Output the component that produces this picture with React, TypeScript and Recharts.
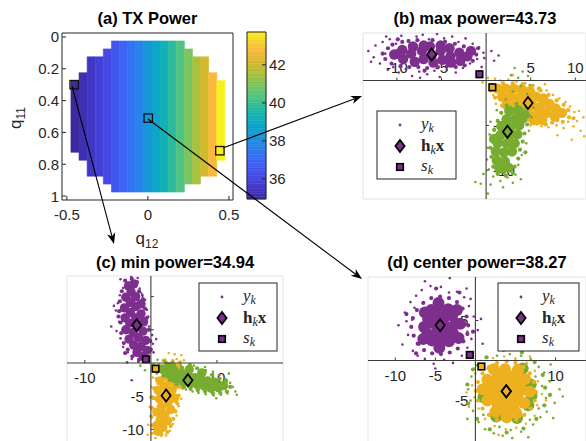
import React from 'react';
import {
  ScatterChart,
  Scatter,
  XAxis,
  YAxis,
  CartesianGrid,
  ReferenceArea,
  ReferenceLine,
} from 'recharts';

const PURPLE = '#7E2F8E';
const YELLOW = '#EDB120';
const GREEN = '#77AC30';
const INK = '#262626';
const AXIS = '#3c3c3c';
const GRID = '#E2E2E2';
const SANS = '"Liberation Sans", Arial, Helvetica, sans-serif';
const SERIF = '"Liberation Serif", "DejaVu Serif", serif';

// ---- (a) TX power map ----
const q12Cols = [-0.45, -0.4, -0.35, -0.3, -0.25, -0.2, -0.15, -0.1, -0.05, 0, 0.05, 0.1, 0.15, 0.2, 0.25, 0.3, 0.35, 0.4, 0.45];
const colPower = [34.94, 35.2, 35.5, 35.8, 36.1, 36.5, 36.9, 37.3, 37.8, 38.27, 38.8, 39.3, 39.8, 40.3, 40.9, 41.5, 42.1, 42.8, 43.73];
const colTop = [0.275, 0.225, 0.125, 0.125, 0.075, 0.025, 0.025, 0.025, 0.025, 0.025, 0.025, 0.025, 0.025, 0.025, 0.075, 0.125, 0.125, 0.225, 0.275];
const colBottom = [0.725, 0.775, 0.875, 0.875, 0.925, 0.975, 0.975, 0.975, 0.975, 0.975, 0.975, 0.975, 0.975, 0.975, 0.925, 0.925, 0.875, 0.875, 0.775];
const q12Ticks = [-0.5, 0, 0.5];
const q11Ticks = [0, 0.2, 0.4, 0.6, 0.8, 1];
const markedPoints = [[-0.455, 0.3], [0.002, 0.51], [0.444, 0.715]];
const powerMin = 34.94;
const powerMax = 43.73;
const cbTicks = [36, 38, 40, 42];

// parula-like colour stops
const parulaStops: [number, string][] = [
  [0, '#3B2A9E'], [0.065, '#4137C6'], [0.13, '#4648E4'], [0.223, '#3D64F6'],
  [0.325, '#2685E8'], [0.379, '#1995D9'], [0.44, '#0DA6C8'], [0.496, '#12B1B5'],
  [0.553, '#2CBA9E'], [0.61, '#50C383'], [0.678, '#78C562'], [0.746, '#A8C13E'],
  [0.815, '#D3B92E'], [0.894, '#FBB93C'], [0.95, '#F6D62C'], [1, '#F8F01E'],
];

function hexToRgb(h: string) {
  return [parseInt(h.slice(1, 3), 16), parseInt(h.slice(3, 5), 16), parseInt(h.slice(5, 7), 16)];
}
function parula(v: number) {
  const t = Math.max(0, Math.min(1, (v - powerMin) / (powerMax - powerMin)));
  for (let i = 1; i < parulaStops.length; i++) {
    const [t1, c1] = parulaStops[i];
    const [t0, c0] = parulaStops[i - 1];
    if (t <= t1) {
      const f = (t - t0) / (t1 - t0);
      const a = hexToRgb(c0), b = hexToRgb(c1);
      const c = a.map((x, k) => Math.round(x + (b[k] - x) * f));
      return `rgb(${c[0]},${c[1]},${c[2]})`;
    }
  }
  return parulaStops[parulaStops.length - 1][1];
}

// ---- (b) max power ----
const bPurpleCore = [[-10.3, 2.9], [-9.4, 3.4], [-9.3, 2.4], [-8.4, 3.0], [-8.2, 3.8], [-8.0, 2.1], [-7.2, 3.3], [-7.0, 2.4], [-6.3, 3.8], [-6.1, 2.8], [-5.9, 2.0], [-5.1, 3.3], [-4.9, 2.3], [-4.1, 3.6], [-4.0, 2.7], [-3.9, 2.0], [-3.0, 3.1], [-2.9, 2.2], [-2.1, 2.7], [-1.7, 3.3], [-7.0, 3.9], [-5.1, 3.9], [-9.8, 3.0]];
const bPurpleEdge = [[-11.3, 2.4], [-11.0, 3.6], [-10.6, 1.9], [-10.5, 4.0], [-9.6, 1.6], [-9.4, 4.3], [-8.6, 1.5], [-8.7, 4.4], [-7.6, 1.5], [-7.7, 4.5], [-6.6, 1.4], [-6.0, 4.5], [-5.4, 1.5], [-4.6, 4.3], [-4.4, 1.6], [-3.5, 4.1], [-3.4, 1.5], [-2.5, 3.8], [-2.4, 1.7], [-1.5, 2.2], [-1.1, 2.9], [-11.6, 3.0], [-9.9, 4.6], [-6.9, 1.1], [-0.9, 3.6]];
const bPurpleSpray = [[-13.2, 3.3], [-12.6, 2.6], [-12.4, 3.9], [-11.9, 1.9], [-11.6, 4.3], [-11.3, 3.0], [-11.0, 1.2], [-10.8, 4.6], [-10.4, 1.5], [-10.1, 4.1], [-9.8, 0.9], [-9.5, 5.0], [-9.0, 1.3], [-8.7, 4.5], [-8.3, 0.5], [-7.8, 4.9], [-7.5, 1.0], [-7.1, 5.1], [-6.6, 0.7], [-6.4, 4.6], [-5.8, 1.1], [-5.5, 5.2], [-5.2, 0.4], [-4.7, 4.7], [-4.4, 1.2], [-3.8, 4.9], [-3.4, 0.9], [-3.1, 4.3], [-2.6, 1.4], [-2.3, 4.7], [-1.8, 1.9], [-1.5, 4.1], [-1.0, 2.4], [-0.8, 3.7], [-0.5, 1.5], [-0.3, 3.1], [0.6, 3.3], [1.4, 2.8], [0.9, 2.2], [-12.9, 2.1], [-11.2, 4.9], [-7.4, 0.3], [-0.2, 2.5]];
const bYellowCore = [[1.3, -0.9], [2.2, -0.9], [3.1, -0.9], [4.0, -1.0], [4.9, -1.2], [1.8, -1.8], [2.8, -1.8], [3.7, -1.9], [4.6, -2.0], [5.6, -1.8], [6.4, -2.0], [2.3, -2.7], [3.3, -2.8], [4.2, -2.9], [5.2, -2.8], [6.1, -2.9], [7.1, -2.6], [7.8, -3.1], [3.8, -3.7], [4.8, -3.8], [5.8, -3.7], [6.8, -3.6], [7.7, -4.0], [8.5, -3.6], [5.3, -4.4], [6.3, -4.4]];
const bYellowEdge = [[0.7, -0.5], [1.9, -0.3], [3.0, -0.3], [4.1, -0.4], [5.2, -0.6], [6.1, -1.1], [7.0, -1.6], [7.9, -2.2], [8.7, -2.7], [9.2, -3.3], [9.3, -4.1], [8.6, -4.6], [7.4, -4.7], [6.7, -4.9], [5.7, -4.8], [4.6, -4.4], [3.2, -3.7], [1.8, -2.8], [1.0, -1.9], [0.5, -1.1], [8.0, -4.4], [9.8, -4.2], [5.9, -0.9]];
const bYellowSpray = [[-0.4, -0.2], [0.2, 0.3], [-0.8, 0.5], [0.5, -0.4], [1.0, 0.2], [1.6, 0.0], [2.5, 0.1], [3.4, -0.1], [4.4, -0.3], [5.3, -0.5], [6.0, -0.8], [6.8, -1.1], [7.5, -1.6], [8.2, -2.0], [8.9, -2.4], [9.4, -2.9], [9.9, -3.5], [10.4, -3.4], [10.9, -4.1], [9.2, -4.6], [9.8, -5.1], [10.6, -5.6], [11.0, -6.2], [8.7, -5.3], [7.9, -5.0], [7.0, -5.2], [6.2, -5.1], [5.0, -5.0], [4.3, -4.6], [0.8, -1.6], [1.1, -2.6], [8.0, -6.1], [9.6, -6.6], [10.2, -4.5], [6.6, -0.4], [3.0, 0.6]];
const bGreenCore = [[2.6, -3.4], [3.6, -3.3], [4.3, -3.8], [2.3, -4.3], [3.3, -4.3], [1.7, -5.1], [2.7, -5.2], [3.7, -5.0], [1.6, -6.1], [2.6, -6.1], [3.5, -6.0], [1.3, -7.0], [2.3, -7.0], [3.2, -7.0], [1.1, -7.9], [2.0, -8.0], [2.9, -7.9], [1.2, -8.9], [2.1, -9.0], [1.5, -9.8], [2.5, -9.7], [0.9, -6.5], [4.0, -4.3]];
const bGreenEdge = [[2.3, -2.8], [3.4, -2.6], [4.5, -3.0], [4.8, -3.9], [4.6, -4.9], [4.3, -5.9], [4.1, -6.8], [3.8, -7.7], [3.6, -8.7], [3.2, -9.6], [3.0, -10.3], [2.2, -10.6], [1.3, -10.4], [0.8, -9.6], [0.6, -8.5], [0.5, -7.5], [0.6, -6.5], [0.9, -5.5], [1.3, -4.5], [1.7, -3.6], [2.0, -10.2], [4.4, -8.0]];
const bGreenSpray = [[3.2, 1.4], [4.1, 1.0], [4.7, 0.5], [3.6, 0.3], [2.8, 0.6], [4.9, -0.5], [3.9, -0.6], [3.0, -1.2], [4.6, -1.5], [2.2, -2.1], [5.0, -2.6], [1.2, -3.3], [5.1, -4.1], [0.5, -4.6], [4.8, -5.6], [0.4, -6.0], [4.5, -7.0], [0.2, -7.5], [4.0, -8.3], [0.1, -8.8], [3.6, -9.4], [0.3, -9.9], [3.3, -10.5], [0.8, -10.7], [2.4, -10.8], [1.6, -11.2], [3.0, -11.4], [0.5, -11.6], [-1.2, -11.3], [-0.6, -11.5], [0.2, -12.6], [1.9, -11.9], [5.3, -3.0], [3.9, -11.0], [-0.3, -10.4]];
const bHkx = [[-6.1, 2.9], [4.7, -2.5], [2.4, -5.7]];
const bSk = [[-0.75, 0.7], [0.7, -0.75]];
const bXTicks = [-10, -5, 5, 10];
const bYTicks = [-10, -5];

// ---- (c) min power ----
const cPurpleCore = [[-3.4, 11.6], [-2.6, 11.9], [-3.0, 10.7], [-3.8, 9.9], [-2.3, 10.0], [-3.1, 9.1], [-4.0, 8.3], [-2.3, 8.5], [-1.5, 8.9], [-3.1, 7.6], [-1.5, 7.4], [-3.9, 6.8], [-2.3, 6.8], [-1.1, 6.2], [-3.2, 6.0], [-2.0, 5.5], [-3.8, 5.0], [-2.7, 4.6], [-1.2, 4.8], [-3.3, 3.6], [-1.9, 3.8], [-0.8, 3.4], [-2.6, 2.7], [-1.5, 2.5], [-0.6, 1.9], [-2.1, 1.6], [-1.2, 1.0]];
const cPurpleEdge = [[-3.9, 12.4], [-2.9, 12.7], [-2.1, 12.2], [-4.4, 10.8], [-1.8, 10.8], [-4.7, 9.3], [-1.2, 9.6], [-4.8, 7.8], [-0.9, 8.2], [-4.6, 6.1], [-0.6, 6.8], [-4.5, 4.5], [-0.3, 5.0], [-4.1, 3.0], [-0.1, 3.3], [-3.5, 2.0], [0.0, 2.0], [-2.8, 1.0], [-0.5, 0.7], [-1.8, 0.5], [-4.9, 7.0], [-3.9, 1.5]];
const cPurpleSpray = [[-4.6, 12.6], [-3.0, 13.1], [-2.0, 12.8], [-4.2, 11.3], [-1.7, 11.2], [-4.7, 10.2], [-1.3, 10.2], [-5.0, 9.0], [-0.9, 9.5], [-5.3, 7.9], [-0.6, 8.0], [-4.8, 6.2], [-0.4, 7.0], [-5.2, 4.8], [-0.3, 5.5], [-4.6, 3.7], [0.2, 4.2], [-4.2, 2.4], [0.3, 2.9], [-3.5, 1.6], [0.4, 1.6], [-2.9, 0.6], [-1.9, 0.2], [-0.3, 0.4], [-6.0, 5.5], [-2.9, -2.6], [-5.6, 8.6], [0.8, 3.6], [-3.6, 0.1]];
const cYellowCore = [[2.8, -0.6], [3.8, -0.8], [1.9, -1.1], [3.3, -1.6], [4.1, -2.0], [2.3, -2.0], [1.4, -2.7], [3.0, -2.7], [3.9, -3.2], [2.1, -3.5], [1.1, -4.1], [3.2, -4.1], [2.4, -4.9], [3.6, -5.3], [1.3, -5.4], [2.6, -6.0], [1.6, -6.6], [3.0, -7.0], [0.9, -7.4], [2.1, -7.7], [1.4, -8.6], [2.5, -8.7], [0.9, -9.4], [1.8, -9.7], [1.1, -10.3]];
const cYellowEdge = [[2.1, 0.4], [3.3, 0.3], [4.4, 0.1], [4.8, -1.0], [4.7, -2.3], [4.5, -3.6], [4.2, -4.9], [4.0, -6.1], [3.7, -7.3], [3.4, -8.4], [3.0, -9.5], [2.5, -10.4], [1.6, -10.7], [0.6, -10.5], [0.2, -9.4], [0.1, -8.1], [0.2, -6.8], [0.4, -5.3], [0.5, -3.8], [0.9, -2.4], [1.3, -1.0], [0.4, -0.3]];
const cYellowSpray = [[2.7, 1.5], [3.6, 1.3], [4.6, 1.2], [5.0, 0.4], [1.8, 0.4], [0.6, -0.6], [4.8, -1.2], [5.1, -2.6], [0.3, -2.2], [4.8, -3.9], [0.1, -3.6], [4.6, -5.4], [-0.1, -5.2], [4.2, -6.5], [-0.2, -6.6], [3.9, -7.9], [-0.1, -8.0], [3.3, -9.2], [-0.4, -9.3], [2.9, -10.2], [0.2, -10.6], [1.6, -11.0], [-0.5, -10.8], [0.7, -11.3], [2.3, -10.9], [3.9, 0.6]];
const cGreenCore = [[1.8, -0.9], [2.7, -0.6], [2.8, -1.7], [3.6, -1.2], [3.8, -2.4], [4.6, -1.6], [4.9, -2.8], [5.6, -1.9], [6.0, -3.1], [6.6, -2.2], [7.1, -3.3], [7.5, -2.4], [8.1, -3.5], [8.6, -2.7], [9.1, -3.8], [9.6, -2.9], [10.2, -3.7], [11.0, -3.4], [5.8, -1.0], [7.7, -1.5]];
const cGreenEdge = [[1.2, -0.4], [2.3, 0.0], [3.5, -0.3], [4.7, -0.7], [5.9, -0.3], [7.0, -0.8], [8.2, -1.2], [9.3, -1.8], [10.4, -2.4], [11.4, -2.7], [12.0, -3.6], [11.5, -4.3], [10.5, -4.5], [9.4, -4.6], [8.2, -4.3], [7.1, -4.1], [6.0, -3.9], [5.0, -3.6], [3.9, -3.2], [2.9, -2.6], [1.9, -1.9], [1.0, -1.3]];
const cGreenSpray = [[-1.6, -0.4], [-0.9, -1.1], [0.4, -0.3], [1.0, 0.5], [2.0, 0.3], [3.3, 0.1], [4.5, -0.3], [6.5, -0.4], [8.2, -0.6], [9.4, -1.3], [10.4, -1.8], [11.3, -2.4], [12.0, -3.0], [12.4, -3.6], [12.8, -4.3], [11.6, -4.6], [10.6, -4.8], [9.5, -4.9], [8.3, -4.7], [7.2, -4.5], [6.3, -4.3], [5.3, -4.0], [11.8, -1.6], [0.9, -1.6], [13.0, -4.8], [9.9, -5.3]];
const cHkx = [[-2.15, 5.7], [2.3, -4.9], [5.6, -2.6]];
const cSk = [[-0.75, 0.56], [0.7, -0.86]];
const cXTicks = [-10, 10];
const cYTicks = [-10, -5, 5, 10];

// ---- (d) center power ----
const dPurpleCore = [[-4.4, 4.4], [-3.4, 4.1], [-5.4, 4.7], [-2.5, 4.6], [-6.4, 4.2], [-3.9, 5.3], [-4.9, 5.5], [-2.9, 5.6], [-5.9, 5.2], [-3.8, 3.3], [-4.9, 3.4], [-2.8, 3.4], [-6.0, 3.3], [-4.4, 6.4], [-3.4, 6.4], [-5.5, 6.3], [-4.3, 2.4], [-3.3, 2.4], [-5.4, 2.5], [-4.6, 7.2], [-4.5, 1.6], [-2.3, 6.3], [-6.5, 2.7], [-6.3, 6.0], [-2.1, 2.8], [-1.9, 4.6]];
const dPurpleEdge = [[-0.9, 4.4], [-1.1, 5.5], [-1.6, 6.5], [-2.3, 7.3], [-3.3, 7.8], [-4.4, 8.0], [-5.5, 7.8], [-6.5, 7.2], [-7.3, 6.3], [-7.8, 5.3], [-8.0, 4.2], [-7.7, 3.1], [-7.2, 2.1], [-6.4, 1.3], [-5.4, 0.9], [-4.3, 0.8], [-3.2, 1.0], [-2.2, 1.5], [-1.5, 2.4], [-1.0, 3.3], [-0.3, 3.6], [-8.6, 5.8], [-4.9, 9.0], [-2.0, 8.5], [-7.4, 0.9]];
const dPurpleSpray = [[-9.6, 4.4], [-9.1, 2.0], [-8.8, 6.0], [-8.4, 3.2], [-8.1, 7.3], [-7.8, 1.2], [-7.4, 8.1], [-7.2, 0.6], [-6.7, 8.8], [-6.3, 0.2], [-5.6, 9.3], [-5.2, -0.4], [-4.3, 9.2], [-3.9, 0.1], [-3.2, 10.3], [-2.8, -0.3], [-2.3, 8.6], [-1.7, 0.6], [-1.4, 7.9], [-1.0, 1.6], [-0.8, 6.8], [-0.5, 2.7], [-0.2, 5.5], [0.3, 3.8], [0.7, 5.2], [-1.1, 9.0], [-7.9, 5.1], [-8.6, 4.9], [-7.0, 2.0], [-7.6, 6.6], [-1.0, 3.6], [-0.6, 7.7], [0.9, 2.1], [-5.0, -1.0], [-3.3, 8.5], [-6.3, 9.9]];
const dGreenCore = [[6.6, -5.6], [6.9, -3.0], [5.2, -7.2], [2.6, -7.0], [7.0, -4.4], [1.0, -4.6], [5.9, -1.0]];
const dGreenEdge = [[8.7, -3.4], [8.4, -1.8], [7.4, -0.2], [5.8, 1.0], [3.5, 1.3], [1.4, 0.4], [-0.3, -1.1], [-1.0, -3.0], [-0.9, -5.4], [0.2, -7.3], [1.8, -8.6], [3.9, -9.0], [6.0, -8.5], [7.6, -7.3], [8.6, -5.6], [9.3, -4.3]];
const dGreenSpray = [[8.3, -3.2], [9.3, -2.6], [8.8, -4.7], [9.9, -5.3], [10.5, -3.6], [7.9, -0.8], [8.6, -1.5], [6.9, 0.2], [5.7, 0.6], [4.3, 0.8], [2.7, 0.6], [1.3, 0.4], [0.2, -0.6], [-0.5, -2.0], [-0.9, -3.6], [-0.6, -5.0], [-0.3, -6.3], [-1.0, -7.3], [0.4, -7.7], [1.2, -8.6], [2.3, -9.1], [3.4, -9.4], [4.6, -9.7], [5.7, -8.9], [6.6, -9.6], [7.2, -8.0], [8.1, -7.1], [8.9, -6.4], [9.7, -7.2], [6.4, -10.3], [2.8, -10.4], [7.6, -4.0], [7.9, -6.0], [6.8, -7.4], [1.0, -6.8], [9.4, -0.5], [3.0, -8.3], [4.4, -8.7], [10.9, -4.5], [7.5, -2.0]];
const dYellowCore = [[3.8, -3.8], [2.8, -3.6], [4.8, -4.0], [1.8, -3.9], [5.8, -3.7], [3.3, -2.9], [4.3, -2.8], [2.3, -2.8], [5.3, -2.9], [3.3, -4.7], [4.3, -4.8], [2.3, -4.7], [5.3, -4.8], [3.8, -1.9], [2.8, -1.9], [4.8, -1.9], [3.8, -5.7], [2.8, -5.6], [4.8, -5.7], [3.9, -6.5], [3.7, -1.1], [1.5, -5.0], [6.1, -5.3], [6.2, -2.3], [1.5, -2.4], [2.5, -6.4], [5.1, -6.6], [0.9, -3.6], [6.8, -3.9], [3.9, -7.1], [2.3, -1.1], [5.3, -1.2]];
const dYellowEdge = [[7.5, -3.9], [7.3, -2.7], [6.8, -1.6], [6.0, -0.8], [5.0, -0.3], [3.9, -0.1], [2.7, -0.3], [1.7, -0.8], [0.9, -1.6], [0.3, -2.7], [0.1, -3.8], [0.3, -5.0], [0.9, -6.0], [1.7, -6.8], [2.7, -7.4], [3.9, -7.6], [5.1, -7.4], [6.1, -6.8], [6.9, -6.0], [7.4, -5.0]];
const dYellowSpray = [[0.8, -0.6], [2.2, 0.3], [3.6, 0.5], [5.0, 0.2], [6.4, -0.3], [7.4, -1.3], [7.8, -2.6], [8.3, -4.2], [7.7, -5.6], [7.4, -6.9], [6.3, -7.9], [5.1, -8.4], [3.8, -8.6], [2.4, -8.2], [1.2, -7.3], [0.4, -6.0], [-0.1, -4.6], [-0.4, -3.1], [0.0, -1.6], [-1.1, -4.0], [8.8, -5.0], [2.9, -9.3], [-0.8, -5.8], [6.8, 0.5], [1.5, -1.0]];
const dHkx = [[-4.4, 4.4], [3.85, -3.85], [3.85, -3.85]];
const dSk = [[-0.7, 0.7], [0.75, -0.75]];
const dXTicks = [-10, -5, 5, 10];
const dYTicks = [-5, 5];

const pts = (a: number[][]) => a.map(([x, y]) => ({ x, y }));

// ---- shapes ----
const dotShape = (color: string, r: number) => (p: any) => <circle cx={p.cx} cy={p.cy} r={r} fill={color} />;
const diamondShape = (color: string) => (p: any) => (
  <polygon
    points={`${p.cx},${p.cy - 6} ${p.cx + 4.6},${p.cy} ${p.cx},${p.cy + 6} ${p.cx - 4.6},${p.cy}`}
    fill={color}
    stroke="#000"
    strokeWidth={1.8}
  />
);
const squareShape = (color: string) => (p: any) => (
  <rect x={p.cx - 3.3} y={p.cy - 3.3} width={6.6} height={6.6} fill={color} stroke="#000" strokeWidth={1.6} />
);
const openSquare = (p: any) => (
  <rect x={p.cx - 4.2} y={p.cy - 4.2} width={8.4} height={8.4} fill="none" stroke="#111" strokeWidth={1.3} />
);
const hiddenShape = () => <g />;

const xLabelShape = (side: string) => (p: any) => (
  <g>
    <line x1={p.cx} x2={p.cx} y1={p.cy} y2={p.cy - 3} stroke={AXIS} />
    <text x={p.cx} y={p.cy + (side === 'above' ? -13 : 15)} textAnchor="middle" dominantBaseline="central" fontSize={15} fontFamily={SANS} fill={INK}>
      {p.payload.label}
    </text>
  </g>
);
const yLabelShape = (side: string) => (p: any) => (
  <g>
    <line x1={p.cx} x2={p.cx + 3} y1={p.cy} y2={p.cy} stroke={AXIS} />
    <text x={p.cx + (side === 'right' ? 7 : -7)} y={p.cy} textAnchor={side === 'right' ? 'start' : 'end'} dominantBaseline="central" fontSize={15} fontFamily={SANS} fill={INK}>
      {p.payload.label}
    </text>
  </g>
);

// ---- axis ticks for (a) and colour bar ----
const tickText = { fontSize: 15, fontFamily: SANS, fill: INK };
const HeatXTick = (p: any) => (
  <g>
    <line x1={p.x} x2={p.x} y1={p.y} y2={p.y - 4} stroke={INK} />
    <text x={p.x} y={p.y + 14} textAnchor="middle" dominantBaseline="central" {...tickText}>{String(p.payload.value)}</text>
  </g>
);
const HeatTopTick = (p: any) => <line x1={p.x} x2={p.x} y1={p.y} y2={p.y + 4} stroke={INK} />;
const HeatYTick = (p: any) => (
  <g>
    <line x1={p.x} x2={p.x + 4} y1={p.y} y2={p.y} stroke={INK} />
    <text x={p.x - 3} y={p.y} textAnchor="end" dominantBaseline="central" {...tickText}>{String(p.payload.value)}</text>
  </g>
);
const HeatRightTick = (p: any) => <line x1={p.x} x2={p.x - 4} y1={p.y} y2={p.y} stroke={INK} />;
const CbTick = (p: any) => (
  <g>
    <line x1={p.x} x2={p.x - 4} y1={p.y} y2={p.y} stroke={INK} />
    <text x={p.x + 3} y={p.y} textAnchor="start" dominantBaseline="central" {...tickText}>{String(p.payload.value)}</text>
  </g>
);

function HeatPanel() {
  const common = { type: 'number' as const, allowDataOverflow: true, axisLine: false, tickLine: false, tickSize: 0, tickMargin: 0, interval: 0 as const };
  return (
    <div style={{ position: 'absolute', left: 0, top: 0 }}>
      <ScatterChart width={290} height={230} margin={{ top: 33, right: 57, bottom: 0, left: 0 }}>
        <XAxis {...common} dataKey="x" domain={[-0.53, 0.525]} ticks={q12Ticks} height={30} tick={HeatXTick} />
        <XAxis {...common} xAxisId="top" orientation="top" domain={[-0.53, 0.525]} ticks={q12Ticks} height={0} tick={HeatTopTick} />
        <YAxis {...common} dataKey="y" domain={[-0.025, 1.025]} reversed ticks={q11Ticks} width={62} tick={HeatYTick} />
        <YAxis {...common} yAxisId="right" orientation="right" domain={[-0.025, 1.025]} reversed ticks={q11Ticks} width={0} tick={HeatRightTick} />
        {q12Cols.map((q, i) => (
          <ReferenceArea
            key={i}
            x1={q - 0.025}
            x2={q + 0.025}
            y1={colTop[i]}
            y2={colBottom[i]}
            fill={parula(colPower[i])}
            fillOpacity={1}
            stroke={parula(colPower[i])}
            strokeWidth={0.6}
          />
        ))}
        <ReferenceArea x1={-0.53} x2={0.525} y1={-0.025} y2={1.025} fill="none" stroke={INK} strokeWidth={1} />
        <Scatter data={pts(markedPoints)} shape={openSquare} isAnimationActive={false} />
      </ScatterChart>
    </div>
  );
}

// colour bar: 64 bands of the colormap, like MATLAB's default
const cbBands = Array.from({ length: 64 }, (_, i) => {
  const step = (powerMax - powerMin) / 64;
  return { lo: powerMin + i * step, hi: powerMin + (i + 1) * step };
});

function ColorBar() {
  return (
    <div style={{ position: 'absolute', left: 240, top: 0 }}>
      <ScatterChart width={50} height={230} margin={{ top: 32, right: 0, bottom: 31, left: 7 }}>
        <XAxis type="number" dataKey="x" domain={[0, 1]} hide allowDataOverflow />
        <YAxis
          type="number"
          dataKey="y"
          orientation="right"
          domain={[powerMin, powerMax]}
          ticks={cbTicks}
          width={24}
          axisLine={false}
          tickLine={false}
          tickSize={0}
          tickMargin={0}
          interval={0}
          tick={CbTick}
          allowDataOverflow
        />
        {cbBands.map((b, i) => (
          <ReferenceArea
            key={i}
            x1={0}
            x2={1}
            y1={b.lo}
            y2={b.hi}
            fill={parula((b.lo + b.hi) / 2)}
            fillOpacity={1}
            stroke={parula((b.lo + b.hi) / 2)}
            strokeWidth={0.5}
          />
        ))}
        <ReferenceArea x1={0} x2={1} y1={powerMin} y2={powerMax} fill="none" stroke={INK} strokeWidth={1} />
        <Scatter data={[{ x: 0.5, y: powerMin }, { x: 0.5, y: powerMax }]} shape={hiddenShape} isAnimationActive={false} />
      </ScatterChart>
    </div>
  );
}

type Cloud = { core: number[][]; edge: number[][]; spray: number[][]; color: string };
type PanelCfg = {
  left: number; top: number; width: number; height: number;
  margin: { top: number; right: number; bottom: number; left: number };
  xDomain: number[]; yDomain: number[]; gridX: number[]; gridY: number[];
  xTicks: number[]; yTicks: number[]; xSide: string; ySide: string;
  clouds: Cloud[]; coreR: number;
  hkx: number[][]; hkxColors: string[]; hkxOrder: number[];
  sk: number[][];
};

const panelB: PanelCfg = {
  left: 290, top: 0, width: 296, height: 230,
  margin: { top: 33, right: 0, bottom: 31, left: 73 },
  xDomain: [-13.8, 11.2], yDomain: [-13.2, 5.3],
  gridX: [-10, -5, 0, 5, 10], gridY: [-10, -5, 0, 5],
  xTicks: bXTicks, yTicks: bYTicks, xSide: 'above', ySide: 'right',
  clouds: [
    { core: bPurpleCore, edge: bPurpleEdge, spray: bPurpleSpray, color: PURPLE },
    { core: bYellowCore, edge: bYellowEdge, spray: bYellowSpray, color: YELLOW },
    { core: bGreenCore, edge: bGreenEdge, spray: bGreenSpray, color: GREEN },
  ],
  coreR: 5.2,
  hkx: bHkx, hkxColors: [PURPLE, YELLOW, GREEN], hkxOrder: [0, 1, 2],
  sk: bSk,
};

const panelC: PanelCfg = {
  left: 0, top: 230, width: 290, height: 220,
  margin: { top: 46, right: 7, bottom: 2, left: 67 },
  xDomain: [-12.7, 20], yDomain: [-12.8, 13.1],
  gridX: [-10, 0, 10, 20], gridY: [-10, -5, 0, 5, 10],
  xTicks: cXTicks, yTicks: cYTicks, xSide: 'below', ySide: 'left',
  clouds: [
    { core: cPurpleCore, edge: cPurpleEdge, spray: cPurpleSpray, color: PURPLE },
    { core: cYellowCore, edge: cYellowEdge, spray: cYellowSpray, color: YELLOW },
    { core: cGreenCore, edge: cGreenEdge, spray: cGreenSpray, color: GREEN },
  ],
  coreR: 4.7,
  hkx: cHkx, hkxColors: [PURPLE, YELLOW, GREEN], hkxOrder: [0, 1, 2],
  sk: cSk,
};

const panelD: PanelCfg = {
  left: 290, top: 230, width: 296, height: 220,
  margin: { top: 47, right: 0, bottom: 2, left: 78 },
  xDomain: [-13.4, 13.8], yDomain: [-10.94, 10.44],
  gridX: [-10, -5, 0, 5, 10], gridY: [-10, -5, 0, 5, 10],
  xTicks: dXTicks, yTicks: dYTicks, xSide: 'below', ySide: 'left',
  clouds: [
    { core: dPurpleCore, edge: dPurpleEdge, spray: dPurpleSpray, color: PURPLE },
    { core: dGreenCore, edge: dGreenEdge, spray: dGreenSpray, color: GREEN },
    { core: dYellowCore, edge: dYellowEdge, spray: dYellowSpray, color: YELLOW },
  ],
  coreR: 6,
  hkx: dHkx, hkxColors: [PURPLE, YELLOW, GREEN], hkxOrder: [0, 2, 1],
  sk: dSk,
};

function CloudPanel({ cfg }: { cfg: PanelCfg }) {
  const xTickData = cfg.xTicks.map((v) => ({ x: v, y: 0, label: String(v) }));
  const yTickData = cfg.yTicks.map((v) => ({ x: 0, y: v, label: String(v) }));
  const skColors = [PURPLE, YELLOW];
  return (
    <div style={{ position: 'absolute', left: cfg.left, top: cfg.top }}>
      <ScatterChart width={cfg.width} height={cfg.height} margin={cfg.margin}>
        <CartesianGrid stroke={GRID} strokeWidth={1} />
        <XAxis type="number" dataKey="x" domain={cfg.xDomain} ticks={cfg.gridX} height={0} allowDataOverflow axisLine={false} tickLine={false} tick={false} interval={0} />
        <YAxis type="number" dataKey="y" domain={cfg.yDomain} ticks={cfg.gridY} width={0} allowDataOverflow axisLine={false} tickLine={false} tick={false} interval={0} />
        <Scatter data={xTickData} shape={xLabelShape(cfg.xSide)} isAnimationActive={false} />
        <Scatter data={yTickData} shape={yLabelShape(cfg.ySide)} isAnimationActive={false} />
        {cfg.clouds.map((c, i) => [
          <Scatter key={`core${i}`} data={pts(c.core)} shape={dotShape(c.color, cfg.coreR)} isAnimationActive={false} />,
          <Scatter key={`edge${i}`} data={pts(c.edge)} shape={dotShape(c.color, 2.1)} isAnimationActive={false} />,
          <Scatter key={`spray${i}`} data={pts(c.spray)} shape={dotShape(c.color, 1.3)} isAnimationActive={false} />,
        ])}
        <ReferenceLine x={0} stroke={AXIS} strokeWidth={1.1} zIndex={700} />
        <ReferenceLine y={0} stroke={AXIS} strokeWidth={1.1} zIndex={700} />
        {cfg.hkxOrder.map((k) => (
          <Scatter key={`hkx${k}`} data={pts([cfg.hkx[k]])} shape={diamondShape(cfg.hkxColors[k])} isAnimationActive={false} />
        ))}
        {cfg.sk.map((s, k) => (
          <Scatter key={`sk${k}`} data={pts([s])} shape={squareShape(skColors[k])} isAnimationActive={false} />
        ))}
      </ScatterChart>
    </div>
  );
}

function Arrow({ x1, y1, x2, y2 }: { x1: number; y1: number; x2: number; y2: number }) {
  const dx = x2 - x1, dy = y2 - y1;
  const L = Math.hypot(dx, dy);
  const ux = dx / L, uy = dy / L;
  const nx = -uy, ny = ux;
  const len = 11, w = 4.2;
  const bx = x2 - ux * len, by = y2 - uy * len;
  const mx = x2 - ux * len * 0.72, my = y2 - uy * len * 0.72;
  return (
    <g>
      <line x1={x1} y1={y1} x2={mx} y2={my} stroke="#000" strokeWidth={1.1} />
      <polygon points={`${x2},${y2} ${bx + nx * w},${by + ny * w} ${mx},${my} ${bx - nx * w},${by - ny * w}`} fill="#000" />
    </g>
  );
}

function LegendBox({ x, y, w }: { x: number; y: number; w: number }) {
  const mx = x + 23;
  const tx = x + 44;
  const serif = { fontFamily: SERIF, fill: INK };
  return (
    <g>
      <rect x={x} y={y} width={w} height={68} fill="#fff" stroke={INK} strokeWidth={1} />
      <circle cx={mx} cy={y + 14} r={1.4} fill={PURPLE} />
      <text x={tx} y={y + 18} fontSize={17} fontStyle="italic" {...serif}>
        y<tspan fontSize={12} dy={3}>k</tspan>
      </text>
      <polygon points={`${mx},${y + 29} ${mx + 4.6},${y + 35} ${mx},${y + 41} ${mx - 4.6},${y + 35}`} fill={PURPLE} stroke="#000" strokeWidth={1.8} />
      <text x={tx} y={y + 40} fontSize={17} fontWeight="bold" {...serif}>
        h<tspan fontSize={12} fontStyle="italic" fontWeight="normal" dy={3}>k</tspan>
        <tspan dy={-3}>x</tspan>
      </text>
      <rect x={mx - 3.3} y={y + 52.7} width={6.6} height={6.6} fill={PURPLE} stroke="#000" strokeWidth={1.6} />
      <text x={tx} y={y + 60} fontSize={17} fontStyle="italic" {...serif}>
        s<tspan fontSize={12} dy={3}>k</tspan>
      </text>
    </g>
  );
}

function Overlay() {
  const title = { fontSize: 16.5, fontWeight: 'bold' as const, fontFamily: SANS, fill: '#000', textAnchor: 'middle' as const, dominantBaseline: 'central' as const };
  return (
    <svg width={586} height={441} style={{ position: 'absolute', left: 0, top: 0, pointerEvents: 'none' }}>
      <text x={147.5} y={18} {...title}>(a) TX Power</text>
      <text x={475} y={18} {...title}>(b) max power=43.73</text>
      <text x={175} y={262} {...title}>(c) min power=34.94</text>
      <text x={477} y={262} {...title}>(d) center power=38.27</text>
      <text x={0} y={0} fontSize={17} fontFamily={SANS} fill={INK} textAnchor="middle" transform="translate(21,118) rotate(-90)">
        q<tspan fontSize={12} dy={4}>11</tspan>
      </text>
      <text x={147} y={244} fontSize={17} fontFamily={SANS} fill={INK} textAnchor="middle">
        q<tspan fontSize={12} dy={4}>12</tspan>
      </text>
      <LegendBox x={377} y={111} w={79} />
      <LegendBox x={199} y={283} w={78} />
      <LegendBox x={498} y={283} w={81} />
      <Arrow x1={72} y1={86} x2={114} y2={244} />
      <Arrow x1={148} y1={119} x2={362} y2={279} />
      <Arrow x1={223} y1={148} x2={362} y2={96} />
    </svg>
  );
}

export default function App() {
  return (
    <div style={{ position: 'absolute', left: 0, top: 0, width: 586, height: 441, background: '#fff', overflow: 'hidden' }}>
      <HeatPanel />
      <ColorBar />
      <CloudPanel cfg={panelB} />
      <CloudPanel cfg={panelC} />
      <CloudPanel cfg={panelD} />
      <Overlay />
    </div>
  );
}
